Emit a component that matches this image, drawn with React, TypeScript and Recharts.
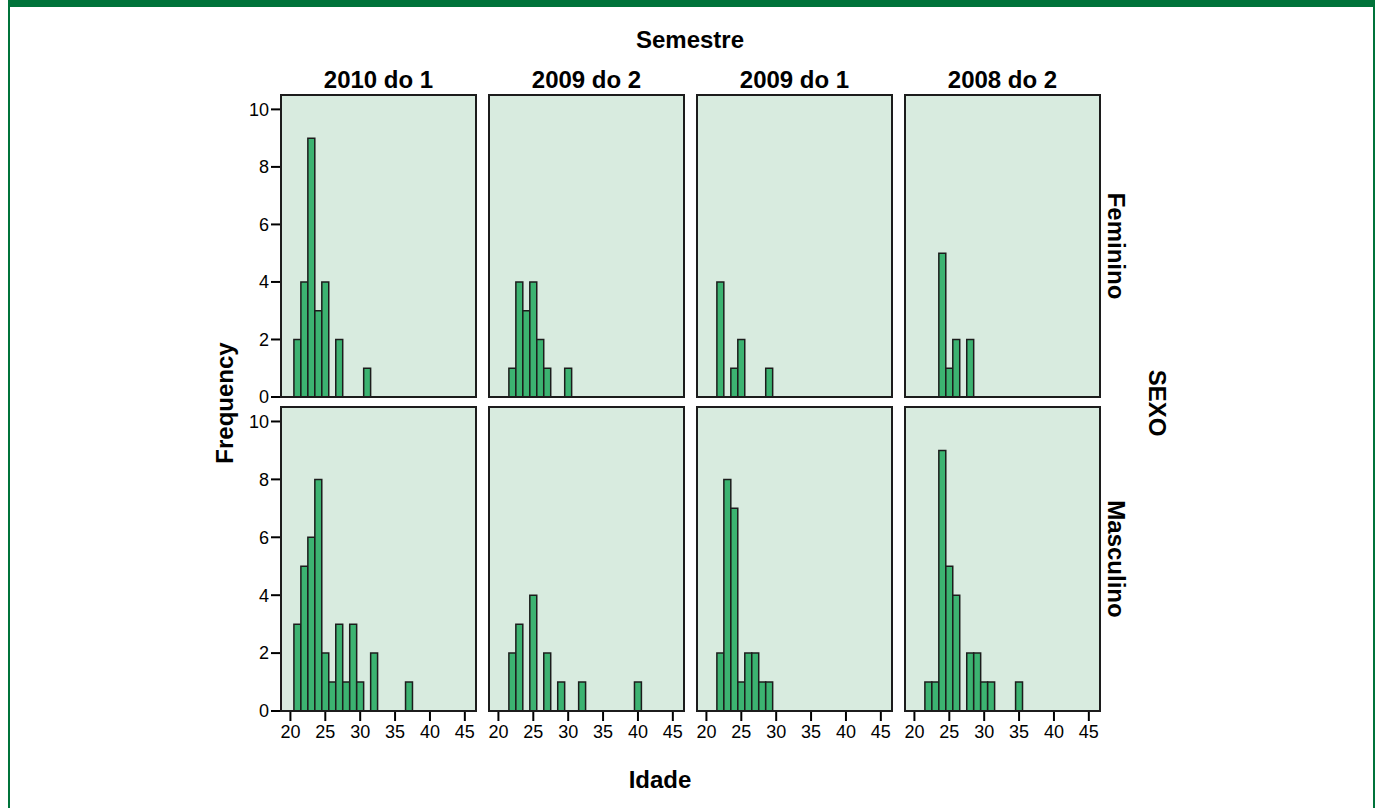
import React from "react";
import { BarChart, Bar, XAxis, YAxis, CartesianGrid } from "recharts";

// ---- data (age bins of 1 year, frequency) ----
const semesters = ["2010 do 1", "2009 do 2", "2009 do 1", "2008 do 2"];
const sexes = ["Feminino", "Masculino"];
const xTicks = [20, 25, 30, 35, 40, 45];
const yTicks = [0, 2, 4, 6, 8, 10];

const fem2010_1 = [
  { age: 21, n: 2 }, { age: 22, n: 4 }, { age: 23, n: 9 }, { age: 24, n: 3 },
  { age: 25, n: 4 }, { age: 27, n: 2 }, { age: 31, n: 1 },
];
const fem2009_2 = [
  { age: 22, n: 1 }, { age: 23, n: 4 }, { age: 24, n: 3 }, { age: 25, n: 4 },
  { age: 26, n: 2 }, { age: 27, n: 1 }, { age: 30, n: 1 },
];
const fem2009_1 = [
  { age: 22, n: 4 }, { age: 24, n: 1 }, { age: 25, n: 2 }, { age: 29, n: 1 },
];
const fem2008_2 = [
  { age: 24, n: 5 }, { age: 25, n: 1 }, { age: 26, n: 2 }, { age: 28, n: 2 },
];
const masc2010_1 = [
  { age: 21, n: 3 }, { age: 22, n: 5 }, { age: 23, n: 6 }, { age: 24, n: 8 },
  { age: 25, n: 2 }, { age: 26, n: 1 }, { age: 27, n: 3 }, { age: 28, n: 1 },
  { age: 29, n: 3 }, { age: 30, n: 1 }, { age: 32, n: 2 }, { age: 37, n: 1 },
];
const masc2009_2 = [
  { age: 22, n: 2 }, { age: 23, n: 3 }, { age: 25, n: 4 }, { age: 27, n: 2 },
  { age: 29, n: 1 }, { age: 32, n: 1 }, { age: 40, n: 1 },
];
const masc2009_1 = [
  { age: 22, n: 2 }, { age: 23, n: 8 }, { age: 24, n: 7 }, { age: 25, n: 1 },
  { age: 26, n: 2 }, { age: 27, n: 2 }, { age: 28, n: 1 }, { age: 29, n: 1 },
];
const masc2008_2 = [
  { age: 22, n: 1 }, { age: 23, n: 1 }, { age: 24, n: 9 }, { age: 25, n: 5 },
  { age: 26, n: 4 }, { age: 28, n: 2 }, { age: 29, n: 2 }, { age: 30, n: 1 },
  { age: 31, n: 1 }, { age: 35, n: 1 },
];

const panels = [
  [fem2010_1, fem2009_2, fem2009_1, fem2008_2],
  [masc2010_1, masc2009_2, masc2009_1, masc2008_2],
];

// ---- layout / style ----
const X_DOMAIN: [number, number] = [18.65, 46.6];
const Y_DOMAIN: [number, number] = [0, 10.5];
const FONT = "'Liberation Sans', Arial, sans-serif";
const BAR_FILL = "#3cb371";
const PANEL_BG = "#d8ebdf";
const EDGE = "#1c1c1c";
const FRAME = "#00733a";

const COL_LEFT = [281, 489, 697, 905];
const PLOT_W = 195;
const ROW_TOP = [95, 407];
const ROW_H = [302, 304];
const Y_AXIS_W = 45;
const TICK_FONT = 18;

function Panel({ data, col, row }: { data: { age: number; n: number }[]; col: number; row: number }) {
  const bottom = row === 1;
  const plotLeft = COL_LEFT[col];
  const plotTop = ROW_TOP[row];
  const plotH = ROW_H[row];
  const unit = PLOT_W / (X_DOMAIN[1] - X_DOMAIN[0]);
  const width = Y_AXIS_W + PLOT_W + 5;
  const topPad = 12;
  const botPad = bottom ? 0 : 12;
  const height = topPad + plotH + (bottom ? 40 : botPad);
  return (
    <>
      <div style={{ position: "absolute", left: plotLeft - Y_AXIS_W, top: plotTop - topPad }}>
        <BarChart
          width={width}
          height={height}
          data={data}
          margin={{ top: topPad, right: 5, left: 0, bottom: botPad }}
          barCategoryGap={0}
          style={{ overflow: "visible" }}
        >
          <CartesianGrid horizontal={false} vertical={false} fill={PANEL_BG} stroke="none" />
          <XAxis
            dataKey="age"
            type="number"
            domain={X_DOMAIN}
            allowDataOverflow
            ticks={xTicks}
            hide={!bottom}
            height={40}
            axisLine={false}
            tickLine={{ stroke: "#000", strokeWidth: 2 }}
            tickSize={10}
            tickMargin={4}
            tick={{ fill: "#000", fontSize: TICK_FONT, fontFamily: FONT }}
            interval={0}
          />
          <YAxis
            type="number"
            domain={Y_DOMAIN}
            allowDataOverflow
            ticks={yTicks}
            width={Y_AXIS_W}
            axisLine={false}
            tickLine={col === 0 ? { stroke: "#000", strokeWidth: 2 } : false}
            tickSize={10}
            tickMargin={2}
            tick={col === 0 ? { fill: "#000", fontSize: TICK_FONT, fontFamily: FONT } : false}
            interval={0}
          />
          <Bar
            dataKey="n"
            fill={BAR_FILL}
            stroke={EDGE}
            strokeWidth={1.5}
            barSize={unit * 0.995}
            isAnimationActive={false}
          />
        </BarChart>
      </div>
      <div
        style={{
          position: "absolute",
          left: plotLeft - 1,
          top: plotTop - 1,
          width: PLOT_W + 2,
          height: plotH + 2,
          border: `2px solid ${EDGE}`,
          boxSizing: "border-box",
          pointerEvents: "none",
        }}
      />
    </>
  );
}

function Label({ text, x, y, rot = 0, size = 24 }: { text: string; x: number; y: number; rot?: number; size?: number }) {
  return (
    <div
      style={{
        position: "absolute",
        left: x,
        top: y,
        transform: `translate(-50%, -50%) rotate(${rot}deg)`,
        fontFamily: FONT,
        fontWeight: "bold",
        fontSize: size,
        color: "#000",
        whiteSpace: "nowrap",
        lineHeight: 1,
      }}
    >
      {text}
    </div>
  );
}

export default function App() {
  return (
    <div style={{ position: "absolute", left: 0, top: 0, width: 1381, height: 808, background: "#fff", overflow: "hidden" }}>
      {/* frame */}
      <div style={{ position: "absolute", left: 8, top: 0, width: 1367, height: 7, background: FRAME }} />
      <div style={{ position: "absolute", left: 8, top: 0, width: 2, height: 808, background: FRAME }} />
      <div style={{ position: "absolute", left: 1373, top: 0, width: 2, height: 808, background: FRAME }} />

      {panels.map((rowData, r) =>
        rowData.map((d, c) => <Panel key={`${r}-${c}`} data={d} col={c} row={r} />)
      )}

      <Label text="Semestre" x={690} y={40} />
      {semesters.map((s, i) => (
        <Label key={s} text={s} x={COL_LEFT[i] + PLOT_W / 2} y={80} />
      ))}
      <Label text="Frequency" x={225} y={403} rot={-90} />
      <Label text="SEXO" x={1157} y={403} rot={90} />
      {sexes.map((s, i) => (
        <Label key={s} text={s} x={1116} y={ROW_TOP[i] + ROW_H[i] / 2} rot={90} />
      ))}
      <Label text="Idade" x={660} y={780} />
    </div>
  );
}
